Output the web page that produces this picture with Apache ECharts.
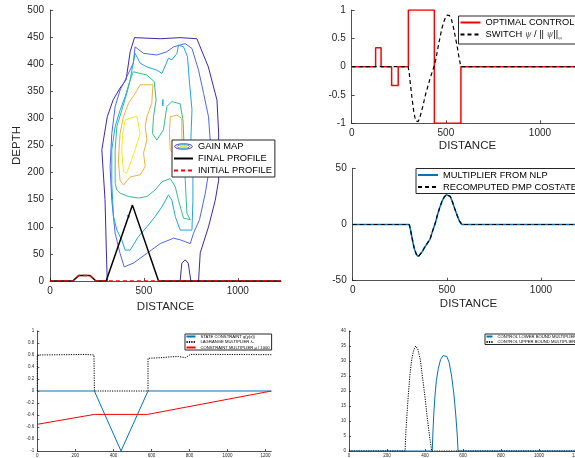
<!DOCTYPE html>
<html><head><meta charset="utf-8">
<script src="https://cdn.jsdelivr.net/npm/echarts@6/dist/echarts.min.js"></script>
<style>html,body{margin:0;padding:0;background:#fff}#c{width:575px;height:458px}</style>
</head><body><div id="c"></div>
<script>
const FONT = '"Liberation Sans", Arial, Helvetica, sans-serif';

// ---------- data ----------
const xMax = 1230;
const topDistTicks = [0, 500, 1000];
const bottomDistTicks = [0, 200, 400, 600, 800, 1000, 1200];

// top-left: profiles
const finalProfileX = [0, 121, 153, 213, 245, 299, 439, 578, 1230];
const finalProfileY = [0, 0, 10, 10, 0, 0, 140, 0, 0];
const initialProfileX = [0, 121, 153, 213, 245, 1230];
const initialProfileY = [0, 0, 10, 10, 0, 0];

// top-left: gain map contour lines [distance, depth]
const contourIndigo = [[305,0],[300,57],[293,150],[276,242],[305,303],[336,334],[373,356],[405,371],[427,423],[450,449],[587,447],[693,449],[782,447],[843,395],[889,334],[898,273],[898,186],[880,149],[844,100],[800,52],[791,0]];
const contourIndigoBump = [[693,0],[702,33],[720,39],[736,33],[750,0]];
const contourBlue = [[453,432],[498,420],[569,417],[622,423],[658,432],[720,438],[756,429],[791,389],[818,346],[844,303],[853,260],[844,199],[827,162],[796,113],[764,88],[747,69],[693,76],[658,79],[587,69],[516,51],[444,33],[395,26],[373,51],[347,88],[329,149],[320,211],[329,272],[347,322],[373,352],[409,377],[444,402],[453,432]];
const contourCyan = [[453,420],[480,402],[516,395],[569,389],[596,383],[631,411],[649,408],[676,420],[684,435],[711,432],[732,414],[743,365],[756,316],[750,260],[761,199],[761,149],[756,94],[693,94],[667,119],[649,149],[631,159],[596,137],[560,119],[516,100],[471,82],[427,57],[400,57],[382,76],[356,94],[338,119],[329,180],[329,242],[347,285],[373,315],[400,340],[427,371],[436,389],[453,420]];
const contourCyanDash1 = [[601,335],[601,323]];
const contourCyanDash2 = [[571,299],[573,302]];
const contourCyanDash3 = [[410,121],[425,118]];
const contourGreen = [[444,386],[516,380],[555,368],[565,334],[551,303],[546,272],[569,260],[604,279],[622,322],[649,331],[693,327],[708,297],[715,242],[720,186],[729,125],[747,113],[711,116],[684,149],[667,174],[640,189],[596,183],[560,168],[516,156],[471,153],[418,156],[373,162],[356,168],[347,180],[347,242],[356,285],[382,315],[409,346],[427,371],[444,386]];
const contourOrange = [[480,362],[548,362],[542,328],[516,303],[507,285],[516,260],[498,236],[507,211],[480,196],[427,192],[391,177],[373,186],[364,223],[373,272],[391,303],[418,328],[453,346],[480,362]];
const contourOrangeRight = [[640,303],[676,306],[702,300],[702,229],[667,232],[640,242],[636,272],[640,303]];
const contourOrangeDot = [[567,210],[571,212]];
const contourYellow = [[400,297],[462,304],[480,272],[453,242],[409,199],[391,202],[382,242],[388,272],[400,297]];

// top-right upper: control and switching function
const controlX = [0,127,127,156,156,212,212,247,247,301,301,439,439,580,580,1230];
const controlY = [0,0,0.333,0.333,0,0,-0.333,-0.333,0,0,1,1,-1,-1,0,0];
const switchX = [0,300,305,310,315,320,325,330,336,341,347,353,360,370,380,390,400,410,420,430,439,448,458,468,478,488,498,506,513,520,530,540,550,560,568,575,580,1230];
const switchY = [0,0,-0.1,-0.25,-0.4,-0.55,-0.68,-0.8,-0.9,-0.96,-0.99,-0.97,-0.92,-0.8,-0.67,-0.52,-0.4,-0.28,-0.17,-0.07,0.02,0.15,0.33,0.5,0.66,0.78,0.87,0.91,0.92,0.9,0.83,0.7,0.53,0.36,0.2,0.08,0,0];

// top-right middle: multiplier vs costate
const costateX = [0,300,306,313,320,328,338,348,358,370,383,397,411,422,432,440,450,462,474,486,498,508,518,530,542,555,567,580,1230];
const nlpMultiplier = [0,0,-4,-10,-16,-22,-26.5,-28.6,-27.5,-24,-20,-16.5,-13,-7,-2,2,8.5,15,20.5,24.5,26.5,27,25,20,14,8,3,0,0];
const pmpCostate = [0,0,-4,-10,-16,-22,-26.5,-28.6,-27.5,-24,-20,-16.5,-13,-7,-2,2,8.5,15,20.5,24.5,26.5,27,25,20,14,8,3,0,0];

// bottom-left
const stateX = [0,300,440,582,1230];
const stateY = [0,0,-1,0,0];
const lagrangeX = [0,0,150,250,298,300,582,582,650,700,743,779,805,900,1230];
const lagrangeY = [0,0.6,0.605,0.61,0.6,0,0,0.545,0.555,0.57,0.575,0.555,0.61,0.61,0.605];
const muX = [0,300,580,1230];
const muY = [-0.555,-0.39,-0.39,0];

// bottom-right
const lowerX = [0,438,441,446,452,460,470,482,495,505,515,527,540,552,562,570,574,1230];
const lowerY = [0,0,5,12,18,23.5,27.5,30.5,31.8,32,31.5,29.5,25,19,12,5,0,0];
const upperX = [0,295,300,306,312,320,330,340,351,362,375,390,400,412,424,435,1230];
const upperY = [0,0,7,13,18.5,25,30.5,33.5,35,34,30.5,23,18,11,5,0,0];

// ---------- helpers ----------
const zip = (xs, ys) => xs.map((x, i) => [x, ys[i]]);
const AX = '#262626';
const plain = v => String(v);

function xAxis(gi, ticks, fs, name, extra) {
  return Object.assign({
    type: 'value', gridIndex: gi, min: 0, max: xMax,
    name: name || '', nameLocation: 'middle', nameGap: 17,
    nameTextStyle: { fontSize: 11.5, color: AX, fontFamily: FONT },
    axisLine: { show: true, onZero: false, lineStyle: { color: AX, width: 0.8 } },
    axisTick: { show: true, inside: true, length: fs > 6 ? 3 : 2, customValues: ticks, lineStyle: { color: AX, width: 0.8 } },
    axisLabel: { show: true, customValues: ticks, fontSize: fs, color: AX, fontFamily: FONT, margin: fs > 6 ? 5 : 2, formatter: plain },
    splitLine: { show: false }
  }, extra || {});
}
function yAxis(gi, min, max, interval, fs, name, extra) {
  return Object.assign({
    type: 'value', gridIndex: gi, min: min, max: max, interval: interval,
    name: name || '', nameLocation: 'middle', nameGap: 27,
    nameTextStyle: { fontSize: 11.5, color: AX, fontFamily: FONT },
    axisLine: { show: true, onZero: false, lineStyle: { color: AX, width: 0.8 } },
    axisTick: { show: true, inside: true, length: fs > 6 ? 3 : 2, lineStyle: { color: AX, width: 0.8 } },
    axisLabel: { show: true, fontSize: fs, color: AX, fontFamily: FONT, margin: fs > 6 ? 6 : 3 },
    splitLine: { show: false }
  }, extra || {});
}
function line(name, data, xi, color, width, type, z) {
  return {
    type: 'line', name: name, data: data, xAxisIndex: xi, yAxisIndex: xi,
    showSymbol: false, symbol: 'none', smooth: false, silent: true,
    lineStyle: { color: color, width: width, type: type || 'solid' },
    itemStyle: { color: color }, z: z || 2
  };
}

const C1 = '#3e27ad', C2 = '#4f66ee', C3 = '#1ea6e2', C4 = '#34bf85', C5 = '#f2b23c', C6 = '#f4ee1e';
const gainIcon = 'image://data:image/svg+xml;utf8,' + encodeURIComponent(
  '<svg xmlns="http://www.w3.org/2000/svg" width="40" height="14" viewBox="0 0 40 14">' +
  '<ellipse cx="20" cy="7" rx="18.5" ry="6" fill="none" stroke="' + C1 + '" stroke-width="2"/>' +
  '<ellipse cx="20" cy="7" rx="13" ry="4" fill="none" stroke="' + C3 + '" stroke-width="2"/>' +
  '<ellipse cx="20" cy="7" rx="7" ry="2" fill="' + C6 + '" stroke="' + C5 + '" stroke-width="1"/>' +
  '</svg>');

const legendBase = {
  orient: 'vertical', selectedMode: false, backgroundColor: '#fff',
  borderColor: AX, borderWidth: 1, borderRadius: 0,
  itemStyle: { opacity: 0 }
};

const option = {
  animation: false,
  backgroundColor: '#fff',
  grid: [
    { left: 50, top: 10, width: 231, height: 271, outerBoundsMode: 'none' },
    { left: 351.7, top: 10, width: 231.6, height: 113.3, outerBoundsMode: 'none' },
    { left: 352.7, top: 168.3, width: 231.6, height: 112.4, outerBoundsMode: 'none' },
    { left: 37.3, top: 331, width: 234, height: 120, outerBoundsMode: 'none' },
    { left: 349, top: 331, width: 233.7, height: 120, outerBoundsMode: 'none' }
  ],
  xAxis: [
    xAxis(0, topDistTicks, 10, 'DISTANCE'),
    xAxis(1, topDistTicks, 10, 'DISTANCE'),
    xAxis(2, topDistTicks, 10, 'DISTANCE'),
    xAxis(3, bottomDistTicks, 4.5, ''),
    xAxis(4, bottomDistTicks, 4.5, '')
  ],
  yAxis: [
    yAxis(0, 0, 500, 50, 10, 'DEPTH'),
    yAxis(1, -1, 1, 0.5, 10, ''),
    yAxis(2, -50, 50, 50, 10, ''),
    yAxis(3, -1, 1, 0.2, 4.5, ''),
    yAxis(4, 0, 40, 5, 4.5, '')
  ],
  legend: [
    Object.assign({}, legendBase, {
      left: 172, top: 140, padding: [2, 3, 2, 1], itemGap: 3, itemWidth: 19, itemHeight: 8,
      textStyle: { fontSize: 9.3, color: '#000', fontFamily: FONT },
      data: [{ name: 'GAIN MAP', icon: gainIcon, itemStyle: { opacity: 1 } }, 'FINAL PROFILE', 'INITIAL PROFILE']
    }),
    Object.assign({}, legendBase, {
      left: 458.5, top: 16, padding: [2, 3, 3, 1], itemGap: 3, itemWidth: 20, itemHeight: 8,
      textStyle: { fontSize: 9.3, color: '#000', fontFamily: FONT,
        rich: { g: { fontFamily: '"DejaVu Serif", serif', fontStyle: 'italic', fontSize: 8.5, color: '#555' },
                s: { fontSize: 6, color: '#555', padding: [7, 0, 0, 0] } } },
      formatter: function (n) { return n === 'SWITCH' ? 'SWITCH {g|ψ} / || {g|ψ}||{s|∞}' : n; },
      data: ['OPTIMAL CONTROL', 'SWITCH']
    }),
    Object.assign({}, legendBase, {
      left: 416, top: 168.5, padding: [2, 3, 2, 1], itemGap: 3, itemWidth: 20, itemHeight: 8,
      textStyle: { fontSize: 9.3, color: '#000', fontFamily: FONT },
      data: ['MULTIPLIER FROM NLP', 'RECOMPUTED PMP COSTATE']
    }),
    Object.assign({}, legendBase, {
      left: 185, top: 334, padding: [0.5, 2, 0.5, 0.5], itemGap: 1.5, itemWidth: 9, itemHeight: 4,
      textStyle: { fontSize: 4.2, color: '#000', fontFamily: FONT },
      data: ['STATE CONSTRAINT g(y(x))', 'LAGRANGE MULTIPLIER λ₂', 'CONSTRAINT MULTIPLIER μ / 1000']
    }),
    Object.assign({}, legendBase, {
      left: 485, top: 334, padding: [0.5, 2, 0.5, 0.5], itemGap: 1.5, itemWidth: 6, itemHeight: 4,
      textStyle: { fontSize: 4.2, color: '#000', fontFamily: FONT },
      data: ['CONTROL LOWER BOUND MULTIPLIER', 'CONTROL UPPER BOUND MULTIPLIER']
    })
  ],
  series: [
    line('GAIN MAP', contourIndigo, 0, C1, 1),
    line('g1b', contourIndigoBump, 0, C1, 1),
    line('g2', contourBlue, 0, C2, 1),
    line('g3', contourCyan, 0, C3, 1),
    line('g3a', contourCyanDash1, 0, C3, 1.5),
    line('g3b', contourCyanDash2, 0, C3, 1.5),
    line('g3c', contourCyanDash3, 0, C3, 1.5),
    line('g4', contourGreen, 0, C4, 1),
    line('g5', contourOrange, 0, C5, 1),
    line('g5b', contourOrangeRight, 0, C5, 1),
    line('g5c', contourOrangeDot, 0, C5, 1.5),
    line('g6', contourYellow, 0, C6, 1),
    line('FINAL PROFILE', zip(finalProfileX, finalProfileY), 0, '#000', 1.5, 'solid', 5),
    line('INITIAL PROFILE', zip(initialProfileX, initialProfileY), 0, '#ff0000', 1.5, [4, 3], 6),

    line('OPTIMAL CONTROL', zip(controlX, controlY), 1, '#ff0000', 1.5, 'solid', 3),
    line('SWITCH', zip(switchX, switchY), 1, '#000', 1.2, [4, 3], 4),

    line('MULTIPLIER FROM NLP', zip(costateX, nlpMultiplier), 2, '#0072bd', 1.5, 'solid', 3),
    line('RECOMPUTED PMP COSTATE', zip(costateX, pmpCostate), 2, '#000', 1.2, [4, 3], 4),

    line('STATE CONSTRAINT g(y(x))', zip(stateX, stateY), 3, '#0072bd', 1, 'solid', 3),
    line('LAGRANGE MULTIPLIER λ₂', zip(lagrangeX, lagrangeY), 3, '#000', 1, [1.2, 1.2], 4),
    line('CONSTRAINT MULTIPLIER μ / 1000', zip(muX, muY), 3, '#ff0000', 1, 'solid', 3),

    line('CONTROL LOWER BOUND MULTIPLIER', zip(lowerX, lowerY), 4, '#0072bd', 1, 'solid', 3),
    line('CONTROL UPPER BOUND MULTIPLIER', zip(upperX, upperY), 4, '#000', 1, [1.2, 1.2], 4)
  ]
};

const chart = echarts.init(document.getElementById('c'), null, { renderer: 'canvas' });
chart.setOption(option);
</script></body></html>
